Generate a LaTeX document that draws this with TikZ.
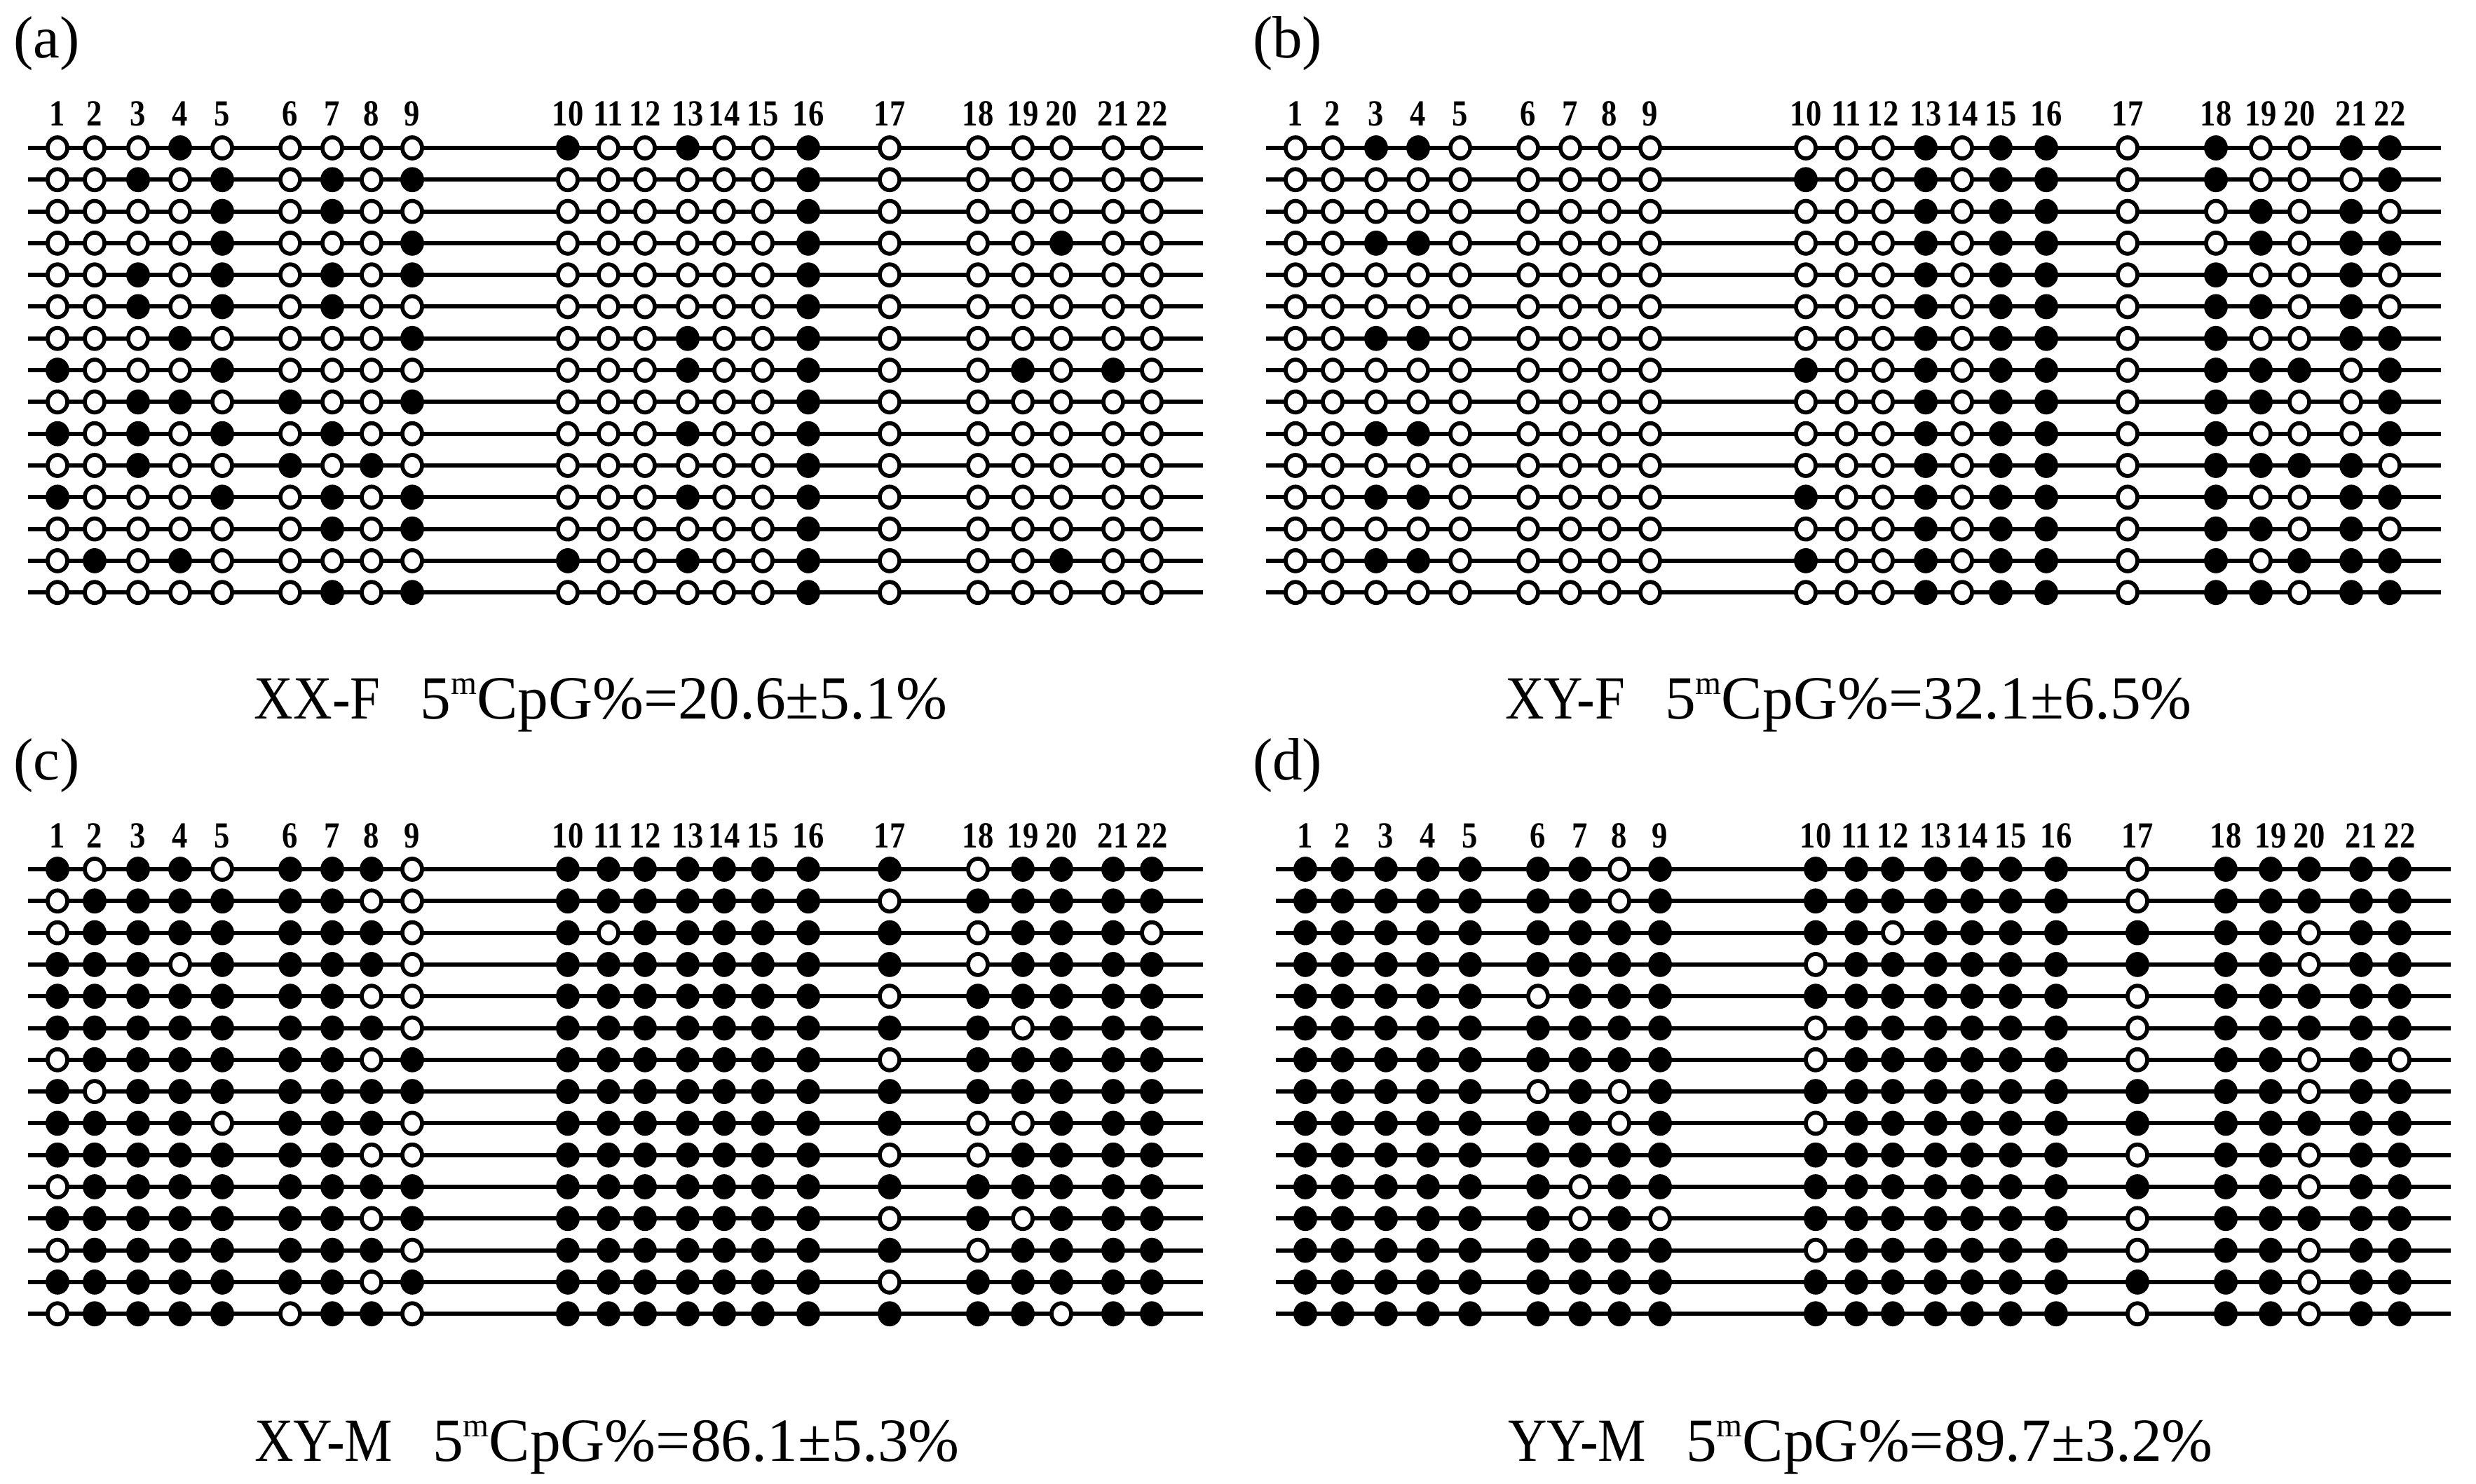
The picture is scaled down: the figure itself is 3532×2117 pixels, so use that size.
\documentclass[tikz,border=0pt]{standalone}
\usepackage{fontspec}
\setmainfont{Liberation Serif}
\newfontfamily\numfont{Liberation Serif}[FakeStretch=0.85]
\usetikzlibrary{shapes.geometric}
\tikzset{
  rowline/.style={line width=1.2pt,black},
  dot0/.style={ellipse,draw=black,fill=white,line width=1.15pt,inner sep=0pt,minimum width=5.6pt,minimum height=6pt},
  dot1/.style={ellipse,draw=black,fill=black,line width=1.15pt,inner sep=0pt,minimum width=5.6pt,minimum height=6pt},
  numlab/.style={anchor=base,inner sep=0pt,font=\numfont\fontsize{10.5}{10.5}\selectfont\bfseries},
  caplab/.style={anchor=base,inner sep=0pt,font=\fontsize{17.5}{17.5}\selectfont},
  panlab/.style={anchor=base west,inner sep=0pt,font=\fontsize{17}{17}\selectfont}
}
\def\xarr{{82,135,197,257,317,414,474,530,588,810,868,920,981,1033,1088,1153,1269,1395,1459,1514,1588,1643}}
\newcommand\mypanel[3]{%
  \begin{scope}[shift={(#2)}]
    \foreach \k in {1,...,22}{
      \pgfmathsetmacro\xx{\xarr[\k-1]}
      \node[numlab] (#1-n\k) at (\xx,180) {\k};
    }
    \foreach \row [count=\r] in {#3}{
      \pgfmathsetmacro\yy{211+45.3*(\r-1)}
      \coordinate (#1-\r-s) at (40,\yy);
      \coordinate (#1-\r-e) at (1716,\yy);
      \draw[rowline] (#1-\r-s) -- (#1-\r-e);
      \foreach \v [count=\k] in \row {
        \pgfmathsetmacro\xx{\xarr[\k-1]}
        \node[dot\v] (#1-\r-\k) at (\xx,\yy) {};
      }
    }
  \end{scope}}
\newcommand\mC{5\raisebox{0.4em}{\fontsize{9.5}{9.5}\selectfont m}CpG\%}
\newcommand\grp[1]{\scalebox{0.88}[1]{#1}\hspace{0.65em}}
\begin{document}
\begin{tikzpicture}[x=0.2pt,y=-0.2pt]
\useasboundingbox (0,0) rectangle (3532,2117);
\fill[white] (0,0) rectangle (3532,2117);
% panel a: XX-F
\mypanel{a}{0,0}{
{0,0,0,1,0,0,0,0,0,1,0,0,1,0,0,1,0,0,0,0,0,0},
{0,0,1,0,1,0,1,0,1,0,0,0,0,0,0,1,0,0,0,0,0,0},
{0,0,0,0,1,0,1,0,0,0,0,0,0,0,0,1,0,0,0,0,0,0},
{0,0,0,0,1,0,0,0,1,0,0,0,0,0,0,1,0,0,0,1,0,0},
{0,0,1,0,1,0,1,0,1,0,0,0,0,0,0,1,0,0,0,0,0,0},
{0,0,1,0,1,0,1,0,0,0,0,0,0,0,0,1,0,0,0,0,0,0},
{0,0,0,1,0,0,0,0,1,0,0,0,1,0,0,1,0,0,0,0,0,0},
{1,0,0,0,1,0,0,0,0,0,0,0,1,0,0,1,0,0,1,0,1,0},
{0,0,1,1,0,1,0,0,1,0,0,0,0,0,0,1,0,0,0,0,0,0},
{1,0,1,0,1,0,1,0,0,0,0,0,1,0,0,1,0,0,0,0,0,0},
{0,0,1,0,0,1,0,1,0,0,0,0,0,0,0,1,0,0,0,0,0,0},
{1,0,0,0,1,0,1,0,1,0,0,0,1,0,0,1,0,0,0,0,0,0},
{0,0,0,0,0,0,1,0,1,0,0,0,0,0,0,1,0,0,0,0,0,0},
{0,1,0,1,0,0,0,0,0,1,0,0,1,0,0,1,0,0,0,1,0,0},
{0,0,0,0,0,0,1,0,1,0,0,0,0,0,0,1,0,0,0,0,0,0}}
% panel b: XY-F
\mypanel{b}{1766,0}{
{0,0,1,1,0,0,0,0,0,0,0,0,1,0,1,1,0,1,0,0,1,1},
{0,0,0,0,0,0,0,0,0,1,0,0,1,0,1,1,0,1,0,0,0,1},
{0,0,0,0,0,0,0,0,0,0,0,0,1,0,1,1,0,0,1,0,1,0},
{0,0,1,1,0,0,0,0,0,0,0,0,1,0,1,1,0,0,1,0,1,1},
{0,0,0,0,0,0,0,0,0,0,0,0,1,0,1,1,0,1,0,0,1,0},
{0,0,0,0,0,0,0,0,0,0,0,0,1,0,1,1,0,1,1,0,1,0},
{0,0,1,1,0,0,0,0,0,0,0,0,1,0,1,1,0,1,0,0,1,1},
{0,0,0,0,0,0,0,0,0,1,0,0,1,0,1,1,0,1,1,1,0,1},
{0,0,0,0,0,0,0,0,0,0,0,0,1,0,1,1,0,1,1,0,0,1},
{0,0,1,1,0,0,0,0,0,0,0,0,1,0,1,1,0,1,0,0,0,1},
{0,0,0,0,0,0,0,0,0,0,0,0,1,0,1,1,0,1,1,1,1,0},
{0,0,1,1,0,0,0,0,0,1,0,0,1,0,1,1,0,1,0,0,1,1},
{0,0,0,0,0,0,0,0,0,0,0,0,1,0,1,1,0,1,1,0,1,0},
{0,0,1,1,0,0,0,0,0,1,0,0,1,0,1,1,0,1,0,1,1,1},
{0,0,0,0,0,0,0,0,0,0,0,0,1,0,1,1,0,1,1,0,1,1}}
% panel c: XY-M
\mypanel{c}{0,1029}{
{1,0,1,1,0,1,1,1,0,1,1,1,1,1,1,1,1,0,1,1,1,1},
{0,1,1,1,1,1,1,0,0,1,1,1,1,1,1,1,0,1,1,1,1,1},
{0,1,1,1,1,1,1,1,0,1,0,1,1,1,1,1,1,0,1,1,1,0},
{1,1,1,0,1,1,1,1,0,1,1,1,1,1,1,1,1,0,1,1,1,1},
{1,1,1,1,1,1,1,0,0,1,1,1,1,1,1,1,0,1,1,1,1,1},
{1,1,1,1,1,1,1,1,0,1,1,1,1,1,1,1,1,1,0,1,1,1},
{0,1,1,1,1,1,1,0,1,1,1,1,1,1,1,1,0,1,1,1,1,1},
{1,0,1,1,1,1,1,1,1,1,1,1,1,1,1,1,1,1,1,1,1,1},
{1,1,1,1,0,1,1,1,0,1,1,1,1,1,1,1,1,0,0,1,1,1},
{1,1,1,1,1,1,1,0,0,1,1,1,1,1,1,1,0,0,1,1,1,1},
{0,1,1,1,1,1,1,1,1,1,1,1,1,1,1,1,1,1,1,1,1,1},
{1,1,1,1,1,1,1,0,1,1,1,1,1,1,1,1,0,1,0,1,1,1},
{0,1,1,1,1,1,1,1,0,1,1,1,1,1,1,1,1,0,1,1,1,1},
{1,1,1,1,1,1,1,0,1,1,1,1,1,1,1,1,0,1,1,1,1,1},
{0,1,1,1,1,0,1,1,0,1,1,1,1,1,1,1,1,1,1,0,1,1}}
% panel d: YY-M
\mypanel{d}{1780,1029}{
{1,1,1,1,1,1,1,0,1,1,1,1,1,1,1,1,0,1,1,1,1,1},
{1,1,1,1,1,1,1,0,1,1,1,1,1,1,1,1,0,1,1,1,1,1},
{1,1,1,1,1,1,1,1,1,1,1,0,1,1,1,1,1,1,1,0,1,1},
{1,1,1,1,1,1,1,1,1,0,1,1,1,1,1,1,1,1,1,0,1,1},
{1,1,1,1,1,0,1,1,1,1,1,1,1,1,1,1,0,1,1,1,1,1},
{1,1,1,1,1,1,1,1,1,0,1,1,1,1,1,1,0,1,1,1,1,1},
{1,1,1,1,1,1,1,1,1,0,1,1,1,1,1,1,0,1,1,0,1,0},
{1,1,1,1,1,0,1,0,1,1,1,1,1,1,1,1,1,1,1,0,1,1},
{1,1,1,1,1,1,1,0,1,0,1,1,1,1,1,1,1,1,1,1,1,1},
{1,1,1,1,1,1,1,1,1,1,1,1,1,1,1,1,0,1,1,0,1,1},
{1,1,1,1,1,1,0,1,1,1,1,1,1,1,1,1,1,1,1,0,1,1},
{1,1,1,1,1,1,0,1,0,1,1,1,1,1,1,1,0,1,1,1,1,1},
{1,1,1,1,1,1,1,1,1,0,1,1,1,1,1,1,0,1,1,0,1,1},
{1,1,1,1,1,1,1,1,1,1,1,1,1,1,1,1,1,1,1,0,1,1},
{1,1,1,1,1,1,1,1,1,1,1,1,1,1,1,1,0,1,1,0,1,1}}
% panel letters
\node[panlab] (la) at (18,83) {(a)};
\node[panlab] (lb) at (1786,83) {(b)};
\node[panlab] (lc) at (18,1112) {(c)};
\node[panlab] (ld) at (1786,1112) {(d)};
% captions
\node[caplab] (ca) at (857,1025) {\grp{XX-F}\mC=20.6±5.1\%};
\node[caplab] (cb) at (2637,1025) {\grp{XY-F}\mC=32.1±6.5\%};
\node[caplab] (cc) at (866,2084) {\grp{XY-M}\mC=86.1±5.3\%};
\node[caplab] (cd) at (2654,2084) {\grp{YY-M}\mC=89.7±3.2\%};
\end{tikzpicture}
\end{document}
